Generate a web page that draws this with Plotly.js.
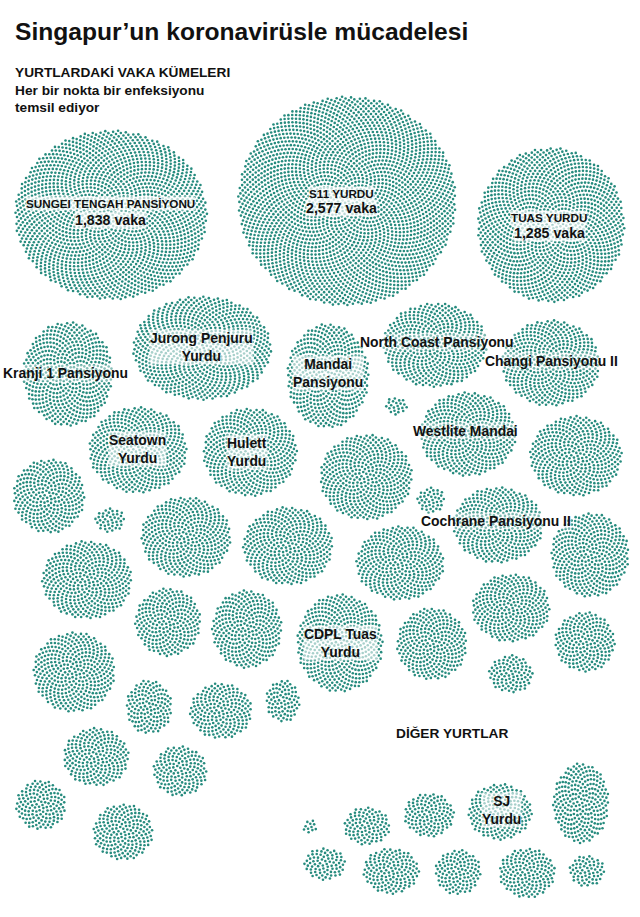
<!DOCTYPE html>
<html>
<head>
<meta charset="utf-8">
<script src="https://cdn.plot.ly/plotly-3.0.1.min.js"></script>
<style>html,body{margin:0;padding:0;background:#fff;}#chart{width:640px;height:917px;}</style>
</head>
<body>
<div id="chart"></div>
<script>
// ---- DATA: dormitory clusters (cases = number of dots) ----
const names = ["SUNGEI TENGAH PANSİYONU","S11 YURDU","TUAS YURDU","Kranji 1 Pansiyonu","Jurong Penjuru Yurdu",
  "Mandai Pansiyonu","North Coast Pansiyonu","Changi Pansiyonu II","","Seatown Yurdu","Hulett Yurdu","Westlite Mandai",
  "","","","","","","","Cochrane Pansiyonu II","","","","","","CDPL Tuas Yurdu","","","","","","","","","","","","",
  "","","","","SJ Yurdu","","","","",""];
const cases = [1838,2577,1285,529,811,482,494,476,22,476,468,455,
  416,301,41,406,396,447,41,386,370,368,396,253,309,476,285,299,204,94,
  371,140,196,81,216,153,141,190,
  11,76,99,124,202,253,145,117,158,63];
const group = ["main","main","main","main","main","main","main","main","main","main","main","main",
  "main","main","main","main","main","main","main","main","main","main","main","main","main","main","main","main","main","main",
  "main","main","main","main","main","main","main","main",
  "other","other","other","other","other","other","other","other","other","other"];

// ---- LAYOUT of the packed clusters (pixel space) ----
const cx = [111,347,551,68,202,328,435,551,396,138,250,468,
  576,49,110,186,288,366,431,498,590,400,87,168,247,340,432,511,585,511,
  74,149,221,283,96,180,41,123,
  310,325,367,429,500,581,391,458,527,587];
const cy = [215,201,225,374,348,376,345,363,406,450,452,434,
  456,496,520,537,546,477,500,525,555,563,580,622,629,643,644,608,642,674,
  672,707,711,701,757,771,805,832,
  827,864,826,815,812,803,871,872,873,871];
const aspect = [0.88,0.96,1.05,1.16,0.75,1.27,0.81,0.88,0.82,0.88,0.94,0.875,
  0.87,1.03,0.8,0.89,0.87,0.93,0.93,0.84,1.08,0.84,0.87,1.03,1.11,1.14,1.03,0.87,1.0,0.86,
  0.98,1.17,0.9,1.24,0.88,0.93,1.0,0.93,
  1.0,0.76,0.83,0.88,0.875,1.43,0.82,0.98,0.89,0.86];
const AREA_PER_DOT = 13.9;

const textLabels = [
  {t:"Kranji 1 Pansiyonu", x:65, y:373, bg:0.45},
  {t:"Jurong Penjuru<br>Yurdu", x:201, y:346.5, bg:0.6},
  {t:"Mandai<br>Pansiyonu", x:328, y:372.5, bg:0.6},
  {t:"North Coast Pansiyonu", x:437, y:342, bg:0.4},
  {t:"Changi Pansiyonu II", x:551, y:361, bg:0.4},
  {t:"Seatown<br>Yurdu", x:137, y:448.5, bg:0.6},
  {t:"Hulett<br>Yurdu", x:247, y:452, bg:0.6},
  {t:"Westlite Mandai", x:465, y:431, bg:0.4},
  {t:"Cochrane Pansiyonu II", x:496, y:521, bg:0.4},
  {t:"CDPL Tuas<br>Yurdu", x:340, y:642.5, bg:0.6},
  {t:"SJ<br>Yurdu", x:501, y:810, bg:0.6}
];
const bigLabels = [
  {i:0, x:110, y1:203, y2:220},
  {i:1, x:341, y1:193, y2:208},
  {i:2, x:549, y1:217, y2:233}
];

// ---- build dots (sunflower packing inside each ellipse) ----
const xs = [], ys = [];
const GA = Math.PI * (3 - Math.sqrt(5));
for (let j = 0; j < cases.length; j++) {
  const n = cases[j];
  const rx = Math.sqrt(n * AREA_PER_DOT / (Math.PI * aspect[j]));
  const ry = rx * aspect[j];
  for (let i = 0; i < n; i++) {
    const r = Math.sqrt((i + 0.5) / n);
    const th = i * GA;
    xs.push(cx[j] + rx * r * Math.cos(th));
    ys.push(cy[j] + ry * r * Math.sin(th));
  }
}

const FONT = "Liberation Sans, Arial, Helvetica, sans-serif";
const ann = [];
function A(text, x, y, size, opts) {
  ann.push(Object.assign({text:text, x:x, y:y, xref:'x', yref:'y', showarrow:false,
    xanchor:'center', yanchor:'middle', font:{family:FONT, size:size, color:'#111'}}, opts||{}));
}
// titles
A("<b>Singapur’un koronavirüsle mücadelesi</b>", 13, 31, 24.6, {xanchor:'left'});
A("<b>YURTLARDAKİ VAKA KÜMELERI</b>", 13, 72, 13.7, {xanchor:'left'});
A("<b>Her bir nokta bir enfeksiyonu</b>", 13, 90, 13.7, {xanchor:'left'});
A("<b>temsil ediyor</b>", 13, 107, 13.7, {xanchor:'left'});
A("<b>DİĞER YURTLAR</b>", 452, 733, 13.7);
// big labels
bigLabels.forEach(b => {
  A("<b>" + names[b.i] + "</b>", b.x, b.y1, 11.7, {bgcolor:'rgba(255,255,255,0.7)', borderpad:0});
  A("<b>" + cases[b.i].toLocaleString('en-US') + " vaka</b>", b.x, b.y2, 14.2, {bgcolor:'rgba(255,255,255,0.7)', borderpad:0});
});
textLabels.forEach(l => A("<b>" + l.t + "</b>", l.x, l.y, 13.9, {bgcolor:'rgba(255,255,255,' + l.bg + ')', borderpad:0}));

const trace = {
  type:'scatter', mode:'markers', x:xs, y:ys, hoverinfo:'skip',
  marker:{size:2.6, color:'#268b7e', line:{width:0}}
};
const layout = {
  width:640, height:917, margin:{l:0,r:0,t:0,b:0},
  paper_bgcolor:'#fff', plot_bgcolor:'#fff', showlegend:false,
  xaxis:{range:[0,640], visible:false, fixedrange:true},
  yaxis:{range:[917,0], visible:false, fixedrange:true},
  annotations:ann, hovermode:false
};
Plotly.newPlot('chart', [trace], layout, {staticPlot:true, displayModeBar:false});
</script>
</body>
</html>
